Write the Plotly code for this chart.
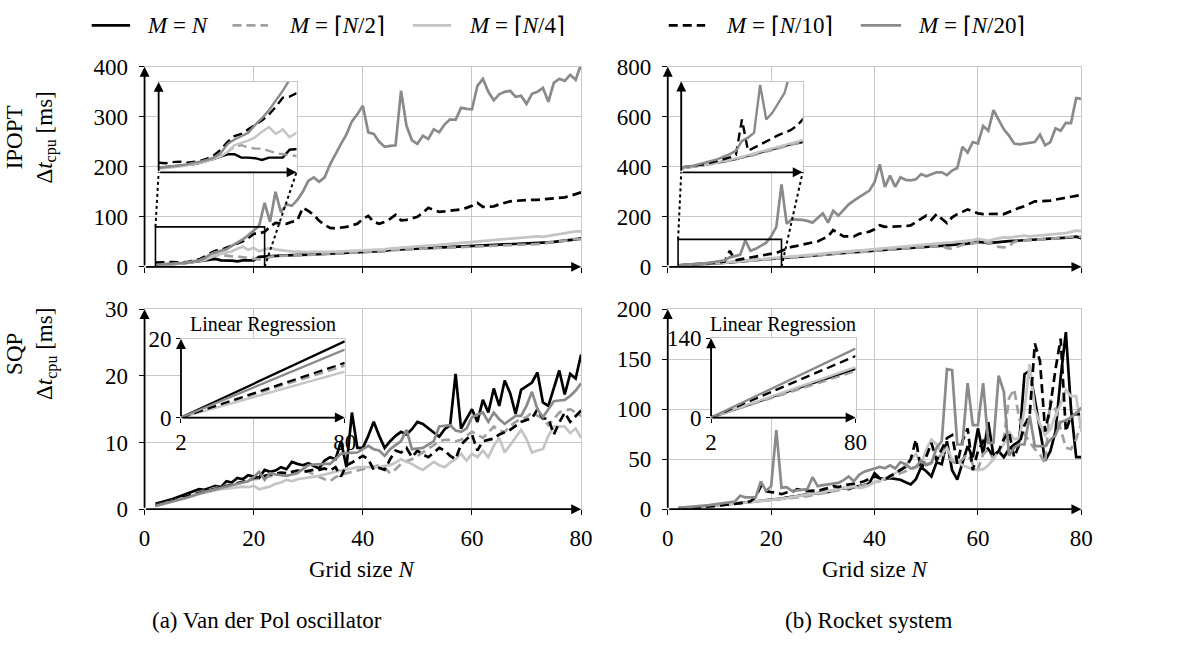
import plotly.graph_objects as go

W, H = 1181, 653
N = list(range(2, 81))

LABELS = ["<i>M</i> = <i>N</i>", "<i>M</i> = ⌈<i>N</i>/2⌉", "<i>M</i> = ⌈<i>N</i>/4⌉",
          "<i>M</i> = ⌈<i>N</i>/10⌉", "<i>M</i> = ⌈<i>N</i>/20⌉"]

# ---------------- Van der Pol, IPOPT (ms) ----------------
vdp_ipopt_1 = [4, 4.5, 5, 5.5, 6, 7, 8.5, 10, 12,
               14, 16, 16, 13, 13, 12.5, 11, 13, 13, 13,
               20, 21, 22, 22, 22.5, 23, 23, 23.5, 24, 24.5,
               25, 25.5, 26, 26, 26.5, 27, 27.5, 28, 28, 29,
               29.5, 30, 31, 32, 34, 34.5, 35, 35.5, 36, 36.5,
               37, 37.5, 38, 38.5, 39, 39.5, 40, 40.5, 41, 41.5,
               42, 42.5, 43, 43.5, 44, 44.5, 45, 45.5, 46, 46.5,
               47, 47.5, 47, 49, 50, 51, 52, 54, 55, 57]
vdp_ipopt_2 = [4, 4.5, 5, 5.5, 6.5, 7.5, 9, 10.5, 12,
               14, 18, 23, 24, 22, 21, 21, 19, 17, 16,
               15, 14.5, 20, 21.5, 22, 22.5, 22.5, 23, 23.5, 24,
               24.5, 25, 25.5, 26, 26, 26.5, 27, 27.5, 28, 28.5,
               29, 29.5, 30.5, 31.5, 33, 34, 34.5, 35, 35.5, 36,
               36.5, 37, 37.5, 38, 38.5, 39, 39.5, 40, 40.5, 41,
               41.5, 42, 42.5, 43, 43.5, 44, 44.5, 45, 45.5, 46,
               46.5, 47, 46, 48.5, 49.5, 50.5, 52, 53.5, 56, 55]
vdp_ipopt_4 = [3, 3.5, 4, 5, 6, 7, 8.5, 10, 12,
               14, 18, 24, 26, 28, 31, 36, 40, 34, 38,
               31, 35, 38, 35, 33, 32, 31, 30, 30, 29.5,
               30, 29.5, 30, 30, 30.5, 31, 31.5, 32, 32, 32,
               33, 33.5, 34, 35, 36.5, 37, 38, 39, 40, 41,
               41.5, 42, 43, 44, 45, 46, 47, 48, 49, 50,
               51, 52, 53, 54, 55, 56, 57, 57.5, 58, 59,
               60, 61, 60, 62, 64, 65, 67, 70, 71, 71]
vdp_ipopt_10 = [8.5, 8, 9, 9.5, 8.5, 9, 10, 12, 15,
                20, 27, 32, 34, 38, 42, 46, 51, 58, 66,
                67, 70, 80, 88, 87, 86, 90, 93, 118, 112,
                104, 92, 84, 78, 77, 78, 80, 83, 86, 96,
                102, 90, 86, 90, 96, 104, 93, 94, 97, 100,
                108, 118, 114, 110, 111, 112, 113, 115, 118, 122,
                128, 120, 120, 121, 125, 128, 131, 132, 133, 134,
                134, 134, 135, 135, 136, 138, 139, 142, 145, 149]
vdp_ipopt_20 = [4, 4.5, 5, 6, 7, 8, 9.5, 11, 13,
                17, 25, 29, 32, 35, 42, 48, 55, 63, 72,
                82, 128, 90, 150, 109, 125, 122, 134, 150, 172,
                179, 170, 179, 205, 227, 246, 265, 291, 305, 322,
                269, 266, 250, 240, 242, 243, 352, 282, 253, 246,
                262, 256, 275, 269, 285, 295, 294, 318, 316, 315,
                362, 376, 350, 333, 345, 350, 352, 340, 342, 326,
                346, 350, 358, 330, 368, 376, 372, 384, 374, 405]

# ---------------- Rocket, IPOPT (ms) ----------------
rock_ipopt_1 = [5, 6, 7, 8, 9, 11, 12, 13, 15,
                16, 18, 20, 22, 24, 26, 28, 30, 32, 34,
                35, 37, 38, 39, 40, 42, 43, 45, 47, 49,
                50, 52, 54, 56, 57, 59, 60, 62, 63, 65,
                66, 68, 70, 71, 73, 75, 76, 77, 78, 80,
                82, 84, 85, 86, 88, 89, 90, 93, 96, 100,
                98, 95, 97, 100, 101, 103, 104, 105, 106, 107,
                108, 109, 110, 112, 113, 115, 117, 118, 121, 115]
rock_ipopt_2 = [5, 6, 7, 8, 9, 10, 12, 13, 14,
                16, 18, 19, 21, 23, 25, 27, 29, 31, 33,
                35, 36, 37, 38, 40, 41, 43, 44, 46, 48,
                49, 51, 53, 55, 56, 58, 59, 61, 62, 64,
                65, 67, 69, 70, 72, 74, 75, 76, 77, 79,
                81, 82, 84, 75, 72, 80, 88, 92, 95, 98,
                100, 96, 92, 80, 78, 82, 100, 104, 106, 107,
                108, 109, 111, 112, 114, 116, 118, 120, 122, 120]
rock_ipopt_4 = [5, 6, 7, 8, 9, 11, 12, 14, 15,
                17, 19, 21, 23, 25, 27, 29, 31, 33, 35,
                37, 39, 41, 42, 44, 45, 47, 48, 50, 52,
                54, 56, 58, 60, 62, 64, 66, 67, 69, 72,
                74, 76, 78, 80, 82, 84, 86, 88, 90, 92,
                94, 96, 95, 97, 98, 100, 101, 103, 107, 112,
                108, 104, 110, 115, 118, 117, 120, 123, 125, 122,
                124, 126, 128, 130, 131, 132, 135, 140, 145, 143]
rock_ipopt_10 = [6, 7, 8, 9, 10, 12, 14, 16, 18,
                 21, 64, 26, 30, 34, 38, 42, 45, 48, 51,
                 56, 64, 72, 80, 84, 88, 92, 97, 102, 112,
                 122, 147, 135, 122, 122, 122, 132, 136, 141, 150,
                 166, 160, 160, 160, 160, 163, 166, 179, 192, 205,
                 188, 211, 192, 175, 198, 211, 220, 230, 222, 214,
                 211, 212, 214, 212, 211, 220, 230, 236, 243, 253,
                 262, 262, 262, 265, 269, 272, 278, 280, 284, 288]
rock_ipopt_20 = [6, 7, 8, 10, 12, 14, 16, 19, 22,
                 26, 38, 42, 48, 106, 64, 72, 84, 96, 122,
                 160, 330, 173, 190, 190, 188, 184, 177, 195, 214,
                 177, 224, 205, 228, 250, 265, 278, 292, 305, 339,
                 410, 320, 365, 320, 358, 348, 346, 350, 371, 362,
                 370, 378, 378, 367, 385, 395, 480, 457, 499, 493,
                 563, 544, 627, 590, 550, 525, 493, 490, 493, 495,
                 499, 529, 486, 499, 554, 544, 576, 575, 675, 672]

# ---------------- Van der Pol, SQP (ms) ----------------
vdp_sqp_1 = [0.8, 1.0, 1.2, 1.5, 1.8, 2.1, 2.5, 2.8, 3.0,
             2.9, 3.2, 3.5, 3.3, 4.2, 4.0, 4.7, 4.5, 5.1, 4.9,
             4.7, 5.9, 5.6, 5.8, 6.3, 6.0, 7.1, 6.8, 6.6, 6.9,
             6.5, 6.1, 7.3, 7.8, 7.5, 10.2, 6.3, 14.5, 9.2, 9.2,
             11.0, 13.1, 11.0, 9.2, 10.2, 11.0, 11.6, 11.2, 12.0, 13.1,
             12.8, 12.1, 11.5, 10.9, 12.0, 12.6, 20.3, 12.1, 13.5, 15.0,
             13.1, 16.4, 14.5, 18.1, 15.5, 19.3, 17.4, 14.3, 17.9, 18.4,
             19.0, 20.5, 16.0, 15.5, 18.0, 20.8, 17.2, 20.3, 19.6, 23.2]
vdp_sqp_2 = [0.6, 0.8, 1.0, 1.2, 1.5, 1.7, 2.0, 2.3, 2.6,
             2.8, 3.0, 3.2, 3.4, 3.6, 3.8, 4.0, 4.2, 4.3, 4.5,
             4.6, 4.8, 5.0, 5.1, 5.3, 5.4, 5.6, 5.8, 5.9, 5.6,
             5.2, 4.8, 4.5, 4.2, 4.8, 5.2, 5.4, 5.6, 5.9, 6.1,
             6.3, 6.4, 6.6, 6.2, 5.4, 6.0, 6.8, 7.2, 7.5, 8.0,
             8.5, 9.0, 9.6, 10.2, 10.4, 10.4, 10.2, 10.4, 11.0, 11.6,
             11.2, 10.7, 11.5, 12.4, 11.8, 11.6, 12.5, 13.1, 13.5, 13.8,
             14.5, 14.0, 13.6, 12.6, 13.5, 14.5, 14.8, 15.0, 14.5, 14.0]
vdp_sqp_4 = [0.5, 0.7, 0.9, 1.1, 1.3, 1.5, 1.8, 2.0, 2.3,
             2.5, 2.6, 2.8, 3.0, 3.1, 3.2, 3.3, 3.4, 3.3, 3.5,
             3.0, 3.2, 3.4, 3.8, 4.0, 4.4, 4.2, 4.5, 4.6, 4.7,
             4.8, 5.0, 5.2, 5.4, 5.6, 5.9, 6.0, 6.1, 6.3, 6.3,
             6.3, 6.2, 6.3, 6.5, 6.6, 7.0, 7.5, 7.1, 6.8, 6.3,
             5.9, 6.5, 7.1, 6.6, 6.3, 7.0, 7.5, 8.3, 7.3, 8.3,
             7.8, 8.8, 7.8, 9.5, 10.7, 8.5, 9.6, 10.7, 11.9, 10.5,
             8.5, 8.8, 9.0, 11.0, 12.4, 12.4, 12.4, 11.4, 12.1, 10.7]
vdp_sqp_10 = [0.6, 0.8, 1.0, 1.2, 1.5, 1.8, 2.0, 2.3, 2.5,
              2.7, 2.9, 3.1, 3.3, 3.4, 3.6, 3.8, 4.0, 4.3, 4.7,
              4.8, 5.0, 5.2, 5.3, 5.5, 5.4, 5.6, 5.8, 5.6, 5.8,
              5.9, 5.9, 6.1, 5.8, 6.3, 4.9, 6.6, 7.0, 7.5, 8.0,
              7.5, 5.9, 6.2, 5.9, 7.5, 8.8, 8.5, 9.2, 7.8, 8.8,
              8.2, 7.8, 8.5, 9.2, 8.8, 8.0, 7.5, 9.7, 10.5, 11.2,
              8.8, 10.2, 10.4, 10.6, 11.2, 11.5, 11.9, 12.5, 13.1, 13.4,
              13.6, 15.0, 13.6, 13.6, 11.2, 13.0, 14.5, 13.1, 14.0, 14.8]
vdp_sqp_20 = [0.5, 0.7, 0.9, 1.1, 1.3, 1.6, 1.8, 2.1, 2.4,
              2.6, 2.8, 3.0, 3.2, 3.4, 3.6, 3.8, 4.0, 4.2, 4.8,
              5.6, 4.4, 5.4, 5.2, 5.1, 5.0, 5.2, 5.4, 6.0, 6.6,
              6.7, 6.8, 6.8, 6.8, 7.5, 8.3, 8.4, 8.5, 8.5, 9.0,
              9.5, 9.0, 8.8, 8.0, 9.0, 9.6, 10.2, 11.9, 9.0, 9.1,
              9.2, 9.7, 10.2, 12.4, 12.5, 12.6, 11.8, 11.6, 12.1, 13.8,
              14.2, 14.5, 13.1, 14.5, 13.5, 12.8, 13.4, 14.0, 14.0, 15.5,
              17.6, 15.0, 13.8, 15.0, 16.2, 16.3, 16.4, 17.0, 17.8, 18.9]

# ---------------- Rocket, SQP (ms) ----------------
rock_sqp_1 = [0.8, 1.0, 1.3, 1.6, 2.0, 2.5, 3.0, 3.5, 4.2,
              4.8, 5.5, 6.0, 6.5, 7.0, 7.5, 8.0, 8.5, 9.0, 9.5,
              10, 10.5, 11.5, 12, 13, 14, 14.5, 15.5, 16, 18,
              17, 19, 20, 21, 20, 22, 23, 24, 26, 36,
              31, 30, 31, 30, 29.5, 27, 24.7, 30, 42, 38,
              32.7, 47, 45, 68, 39, 29.5, 45.5, 63, 52, 80.8,
              55, 87, 53.5, 58, 52, 60, 64.7, 68, 135, 138.5,
              110, 77.6, 48.7, 58, 77.6, 132, 177, 100, 52, 52]
rock_sqp_2 = [0.8, 1.0, 1.2, 1.5, 1.9, 2.3, 2.8, 3.3, 4,
              4.5, 5, 5.5, 6, 6.5, 7, 7.5, 8, 8.5, 9,
              9.5, 10, 10.5, 11, 12, 12.5, 13, 14, 15, 16,
              17, 18, 19, 20, 21, 22, 23, 24, 25, 27,
              28, 30, 32, 34, 36, 38, 40, 42, 44, 45,
              47, 50, 55, 52, 48, 45, 50, 55, 45, 40,
              55, 60, 50, 58, 70, 111, 120, 90, 75, 68,
              60, 55, 45.5, 109.6, 100, 80, 61.5, 60, 70, 87]
rock_sqp_4 = [0.8, 1.0, 1.2, 1.5, 1.9, 2.3, 2.8, 3.3, 4,
              4.5, 5, 5.5, 6, 6.5, 7, 7.5, 8, 8.5, 9.5,
              10, 10.5, 11, 12, 13, 14, 15, 15.5, 16, 17,
              18, 19, 20, 21, 22, 23, 21, 22, 24, 27,
              29, 31, 33, 36, 40, 44, 50, 55, 45, 60,
              69.6, 65, 55, 61.5, 50, 48, 44, 42, 40, 39,
              40, 44, 50, 58, 65, 77.6, 70, 71, 100, 145,
              100, 85, 74, 80, 93.6, 105, 119, 113, 113, 77.6]
rock_sqp_10 = [0.8, 1.0, 1.2, 1.5, 1.9, 2.3, 2.8, 3.3, 4,
               4.5, 5, 5.5, 6, 6.5, 8, 12, 23, 18, 17,
               16.7, 15, 16.7, 17, 20, 19, 18, 18.5, 18, 20,
               21, 23, 22, 24, 24.7, 25, 26.3, 28, 30, 32.7,
               31, 29.5, 33, 35.9, 39, 42.3, 50, 69.6, 39, 52,
               66.3, 48.7, 60, 71, 74, 45.5, 68, 80.8, 39, 58,
               68, 60, 53.5, 58, 70, 77.6, 52, 64.7, 84, 93.6,
               165.7, 148, 77.6, 103, 140, 170.5, 77.6, 93.6, 95, 95]
rock_sqp_20 = [1.3, 1.6, 2, 2.5, 3, 3.5, 4, 4.7, 5.4,
               6, 6.5, 7.7, 13.5, 11.9, 11.9, 11.9, 27.9, 18.3, 23,
               79, 21.5, 22, 18.3, 19, 19.9, 20, 32, 23, 24,
               24.7, 25.5, 26.3, 29, 32.7, 27.9, 34.3, 37.5, 39.1, 40.7,
               42.3, 41, 43.9, 40.7, 47, 45, 40.7, 42.3, 48.7, 43.9,
               46, 61.5, 68, 140, 139, 64.7, 64.7, 126, 84, 84,
               126, 66.3, 66.3, 133.6, 117.6, 53.5, 61.5, 64.7, 64.7, 93.6,
               63, 63, 63, 69.6, 74, 87, 88.8, 92, 96, 101.6]

# linear regression insets (end value at N = 80, start at N = 2 with 0)
reg_x = [2, 80]
reg_vdp_end = [19.4, 13.2, 11.7, 13.9, 17.3]
reg_rock_end = [86, 82, 89, 108.7, 121.8]

# ---------------- styling ----------------
COLORS = ["#000000", "#a0a0a0", "#c4c4c4", "#000000", "#8a8a8a"]
DASHES = ["solid", "9px,5px", "solid", "9px,5px", "solid"]
LW = 2.7
FONT = "Liberation Serif, Times New Roman, serif"
FS = 23
GRID = "#c8c8c8"


def fx(px):
    return px / W


def fy(py):
    return 1 - py / H


fig = go.Figure()

panels = [
    (1, [vdp_ipopt_1, vdp_ipopt_2, vdp_ipopt_4, vdp_ipopt_10, vdp_ipopt_20],
     [0, 400], [0, 100, 200, 300, 400], (140.7, 584, 57, 265), False),
    (2, [rock_ipopt_1, rock_ipopt_2, rock_ipopt_4, rock_ipopt_10, rock_ipopt_20],
     [0, 800], [0, 200, 400, 600, 800], (672, 1092, 57, 265), False),
    (3, [vdp_sqp_1, vdp_sqp_2, vdp_sqp_4, vdp_sqp_10, vdp_sqp_20],
     [0, 30], [0, 10, 20, 30], (140.7, 584, 309, 517), True),
    (4, [rock_sqp_1, rock_sqp_2, rock_sqp_4, rock_sqp_10, rock_sqp_20],
     [0, 200], [0, 50, 100, 150, 200], (672, 1092, 309, 517), True),
]

zoom_insets = [
    (5, 1, panels[0][1], [2, 22], [0, 80], (155, 295, 72.7, 166.7)),
    (6, 2, panels[1][1], [2, 22], [0, 110], (685.7, 809, 72.3, 166.7)),
]
reg_insets = [
    (7, reg_vdp_end, [2, 80], [0, 20], (177.7, 344, 340, 421.7)),
    (8, reg_rock_end, [2, 80], [0, 140], (716, 862.7, 339.3, 421.7)),
]

layout = dict(width=W, height=H, margin=dict(l=0, r=0, t=0, b=0),
              paper_bgcolor="white", plot_bgcolor="white", showlegend=False,
              font=dict(family=FONT, size=FS, color="black"))

annotations = []
shapes = []


def name(kind, i):
    return kind if i == 1 else f"{kind}{i}"


def ref(kind, i):
    return kind[0] if i == 1 else f"{kind[0]}{i}"


def arrow(i, x0, y0, x1, y1):
    xr, yr = ref("x", i), ref("y", i)
    annotations.append(dict(x=x1, y=y1, ax=x0, ay=y0, xref=xr, yref=yr,
                            axref=xr, ayref=yr, text="", showarrow=True,
                            arrowhead=2, arrowsize=1.1, arrowwidth=1.8,
                            arrowcolor="black", standoff=0, startstandoff=0))


TICKFONT = dict(family=FONT, size=FS, color="black")

for i, series, yr, yt, box, xlab in panels:
    for k, s in enumerate(series):
        fig.add_trace(go.Scatter(x=N, y=s, mode="lines", xaxis=ref("x", i), yaxis=ref("y", i),
                                 line=dict(color=COLORS[k], width=LW, dash=DASHES[k])))
    layout[name("xaxis", i)] = dict(
        domain=[fx(box[0]), fx(box[1])], range=[0, 80], anchor=ref("y", i),
        tickvals=[0, 20, 40, 60, 80], showticklabels=xlab, ticks="outside", ticklen=5,
        tickcolor="black", tickwidth=1, showgrid=True, gridcolor=GRID, gridwidth=1,
        showline=True, linecolor=GRID, linewidth=1, mirror=True, zeroline=False,
        ticklabelstandoff=3, tickfont=TICKFONT)
    layout[name("yaxis", i)] = dict(
        domain=[fy(box[3]), fy(box[2])], range=yr, anchor=ref("x", i),
        tickvals=yt, ticks="outside", ticklen=5, tickcolor="black", tickwidth=1,
        showgrid=True, gridcolor=GRID, gridwidth=1, showline=True, linecolor=GRID,
        linewidth=1, mirror=True, zeroline=False, ticklabelstandoff=6,
        tickfont=TICKFONT)
    arrow(i, 0, 0, 80, 0)
    arrow(i, 0, 0, 0, yr[1])

main_box = {p[0]: (p[4], p[2]) for p in panels}


def to_px(box, xr, yr, x, y):
    px = box[0] + (x - xr[0]) / (xr[1] - xr[0]) * (box[1] - box[0])
    py = box[3] - (y - yr[0]) / (yr[1] - yr[0]) * (box[3] - box[2])
    return px, py


for i, parent, series, xr, yr, box in zoom_insets:
    for k, s in enumerate(series):
        fig.add_trace(go.Scatter(x=N, y=s, mode="lines", xaxis=ref("x", i), yaxis=ref("y", i),
                                 line=dict(color=COLORS[k], width=LW - 0.3, dash=DASHES[k])))
    layout[name("xaxis", i)] = dict(
        domain=[fx(box[0]), fx(box[1])], range=xr, anchor=ref("y", i),
        showticklabels=False, ticks="", showgrid=False, showline=True,
        linecolor=GRID, linewidth=1, mirror=True, zeroline=False)
    layout[name("yaxis", i)] = dict(
        domain=[fy(box[3]), fy(box[2])], range=yr, anchor=ref("x", i),
        showticklabels=False, ticks="", showgrid=False, showline=True,
        linecolor=GRID, linewidth=1, mirror=True, zeroline=False)
    arrow(i, xr[0], yr[0], xr[1], yr[0])
    arrow(i, xr[0], yr[0], xr[0], yr[1])
    shapes.append(dict(type="rect", xref=ref("x", parent), yref=ref("y", parent),
                       x0=xr[0], x1=xr[1], y0=yr[0], y1=yr[1],
                       line=dict(color="black", width=1.6)))
    pbox, pyr = main_box[parent]
    ax0, ay0 = to_px(pbox, [0, 80], pyr, xr[0], yr[1])
    ax1, ay1 = to_px(pbox, [0, 80], pyr, xr[1], yr[0])
    for (sx, sy), (ex, ey) in [((ax0, ay0), (box[0], box[3])), ((ax1, ay1), (box[1], box[3]))]:
        shapes.append(dict(type="line", xref="paper", yref="paper",
                           x0=fx(sx), y0=fy(sy), x1=fx(ex), y1=fy(ey),
                           line=dict(color="black", width=2, dash="dot")))

for i, ends, xr, yr, box in reg_insets:
    for k, e in enumerate(ends):
        fig.add_trace(go.Scatter(x=reg_x, y=[0, e], mode="lines", xaxis=ref("x", i),
                                 yaxis=ref("y", i),
                                 line=dict(color=COLORS[k], width=2.3, dash=DASHES[k])))
    layout[name("xaxis", i)] = dict(
        domain=[fx(box[0]), fx(box[1])], range=xr, anchor=ref("y", i),
        tickvals=[2, 80], ticks="outside", ticklen=4, tickcolor="black",
        showgrid=False, showline=True, linecolor=GRID, linewidth=1, mirror=True,
        zeroline=False, tickfont=TICKFONT)
    layout[name("yaxis", i)] = dict(
        domain=[fy(box[3]), fy(box[2])], range=yr, anchor=ref("x", i),
        tickvals=yr, ticks="outside", ticklen=4, tickcolor="black",
        showgrid=False, showline=True, linecolor=GRID, linewidth=1, mirror=True,
        zeroline=False, tickfont=TICKFONT)
    arrow(i, xr[0], yr[0], xr[1], yr[0])
    arrow(i, xr[0], yr[0], xr[0], yr[1])
    annotations.append(dict(text="Linear Regression", xref="paper", yref="paper",
                            x=fx((box[0] + box[1]) / 2), y=fy(325), showarrow=False,
                            xanchor="center", yanchor="middle",
                            font=dict(family=FONT, size=20, color="black")))


def txt(text, px, py, xanchor="center", angle=0, size=FS):
    annotations.append(dict(text=text, xref="paper", yref="paper", x=fx(px), y=fy(py),
                            showarrow=False, xanchor=xanchor, yanchor="middle",
                            textangle=angle, font=dict(family=FONT, size=size, color="black")))


# legend (manual)
leg_lines = [(87, 126), (230, 266), (413, 452), (673, 710), (868, 909)]
leg_text_x = [141, 285, 468, 729, 924]
for k in range(5):
    shapes.append(dict(type="line", xref="paper", yref="paper",
                       x0=fx(leg_lines[k][0]), x1=fx(leg_lines[k][1]), y0=fy(14), y1=fy(14),
                       line=dict(color=COLORS[k], width=LW, dash=DASHES[k])))
    txt(LABELS[k], leg_text_x[k], 14, xanchor="left")

# axis titles
txt("IPOPT<br>Δ<i>t</i><sub>cpu</sub> [ms]", 26, 131, angle=-90)
txt("SQP<br>Δ<i>t</i><sub>cpu</sub> [ms]", 26, 356, angle=-90)
txt("Grid size <i>N</i>", 362, 580)
txt("Grid size <i>N</i>", 882, 580)
txt("(a) Van der Pol oscillator", 265, 633)
txt("(b) Rocket system", 876, 633)

layout["annotations"] = annotations
layout["shapes"] = shapes
fig.update_layout(**layout)
fig.write_html("out.html")
